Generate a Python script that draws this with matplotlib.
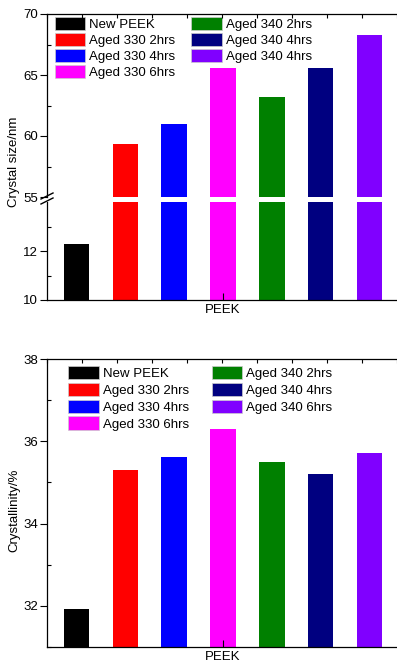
import matplotlib
matplotlib.use("Agg")
import matplotlib.pyplot as plt
from matplotlib.patches import Patch

plt.rcParams['font.family'] = ['Liberation Sans', 'DejaVu Sans']
plt.rcParams['font.size'] = 9.5

# data
samples = ['New PEEK', 'Aged 330 2hrs', 'Aged 330 4hrs', 'Aged 330 6hrs',
           'Aged 340 2hrs', 'Aged 340 4hrs', 'Aged 340 6hrs']
# top legend in the original repeats "4hrs" for the last entry
size_labels = ['New PEEK', 'Aged 330 2hrs', 'Aged 330 4hrs', 'Aged 330 6hrs',
               'Aged 340 2hrs', 'Aged 340 4hrs', 'Aged 340 4hrs']
colors = ['#000000', '#ff0000', '#0000ff', '#ff00ff', '#008000', '#000080', '#8000ff']
crystal_size = [12.3, 59.35, 61.0, 65.6, 63.2, 65.6, 68.25]
crystallinity = [31.92, 35.31, 35.62, 36.31, 35.51, 35.21, 35.72]

xpos = list(range(len(samples)))
xlim = (-0.6, 6.56)
bw = 0.52

fig = plt.figure(figsize=(3.97, 6.62), dpi=100)
L, W = 47 / 397, 1 - 47 / 397


def style(ax, top=True, bottom=True):
    ax.set_xlim(*xlim)
    ax.spines['right'].set_visible(False)
    ax.spines['top'].set_visible(top)
    ax.spines['bottom'].set_visible(bottom)
    for s in ax.spines.values():
        s.set_linewidth(0.9)
    ax.tick_params(axis='y', which='major', direction='out', length=5, width=0.8, pad=1.5)
    ax.tick_params(axis='y', which='minor', direction='in', length=3, width=0.8)
    if bottom:
        ax.set_xticks([3])
        ax.set_xticklabels(['PEEK'])
        ax.tick_params(axis='x', direction='in', length=5, width=0.8, pad=3)
    else:
        ax.set_xticks([])
    if top:
        tw = ax.twiny()
        tw.set_xlim(0, 10)
        tw.set_xticks(range(11))
        tw.set_xticklabels([])
        tw.tick_params(axis='x', direction='in', length=3, width=0.8)
        for s in tw.spines.values():
            s.set_visible(False)


# ---- top chart: crystal size with broken axis ----
ax_hi = fig.add_axes([L, 1 - 197 / 662, W, 183 / 662])
ax_lo = fig.add_axes([L, 1 - 300 / 662, W, 98 / 662])
for ax in (ax_hi, ax_lo):
    ax.bar(xpos, crystal_size, width=bw, color=colors)
ax_hi.set_ylim(55, 70)
ax_hi.set_yticks([55, 60, 65, 70])
ax_hi.set_yticks([57.5, 62.5, 67.5], minor=True)
ax_lo.set_ylim(10, 14)
ax_lo.set_yticks([10, 12])
ax_lo.set_yticks([11, 13], minor=True)
style(ax_hi, top=True, bottom=False)
style(ax_lo, top=False, bottom=True)

# break marks on the left spine
for yb in (1 - 196 / 662, 1 - 201 / 662):
    fig.add_artist(plt.Line2D([L - 6 / 397, L + 6 / 397], [yb - 3 / 662, yb + 3 / 662],
                              color='k', lw=1.0))

handles = [Patch(facecolor=c, edgecolor='#cccccc', linewidth=0.5) for c in colors]
ax_hi.legend(handles, size_labels, ncol=2, loc='upper left', bbox_to_anchor=(0.023, 0.985),
             frameon=False, borderpad=0, borderaxespad=0, handlelength=2.3, handleheight=1.2,
             labelspacing=0.14, handletextpad=0.3, columnspacing=1.2)
fig.text(14 / 397, 1 - 162 / 662, 'Crystal size/nm', rotation=90, ha='center', va='center')

# ---- bottom chart: crystallinity ----
ax2 = fig.add_axes([L, 1 - 646.7 / 662, W, 287.4 / 662])
ax2.bar(xpos, crystallinity, width=bw, color=colors)
ax2.set_ylim(31, 38)
ax2.set_yticks([32, 34, 36, 38])
ax2.set_yticks([31, 33, 35, 37], minor=True)
style(ax2, top=True, bottom=True)
ax2.legend(handles, samples, ncol=2, loc='upper left', bbox_to_anchor=(0.061, 0.977),
           frameon=False, borderpad=0, borderaxespad=0, handlelength=2.3, handleheight=1.2,
           labelspacing=0.2, handletextpad=0.33, columnspacing=1.7)
fig.text(14 / 397, 1 - 510 / 662, 'Crystallinity/%', rotation=90, ha='center', va='center')

fig.savefig('out.png', dpi=100)
